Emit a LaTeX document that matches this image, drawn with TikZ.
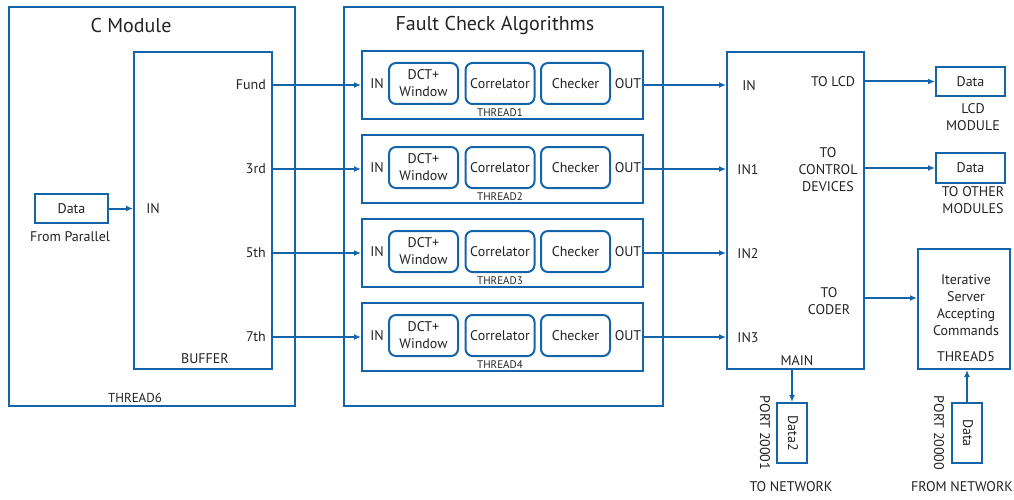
\documentclass[tikz,border=0pt]{standalone}
\usepackage{fontspec}
\setmainfont{PT Sans}
\usetikzlibrary{arrows.meta}
\definecolor{myblue}{RGB}{20,100,170}
\definecolor{txt}{RGB}{35,35,35}
\tikzset{
  box/.style={draw=myblue, line width=2pt, inner sep=0pt},
  rbox/.style={draw=myblue, line width=2pt, inner sep=0pt, rounded corners=7pt, minimum width=69pt, minimum height=41pt, align=center, font=\fontsize{14}{17}\selectfont, text=txt},
  lbl/.style={inner sep=0pt, font=\fontsize{14}{17}\selectfont, text=txt, align=center},
  small/.style={inner sep=0pt, font=\fontsize{11}{12}\selectfont, text=txt},
  big/.style={inner sep=0pt, font=\fontsize{20}{22}\selectfont, text=txt},
  conn/.style={draw=myblue, line width=2pt},
  arr/.style={conn, -{Latex[length=7pt,width=6pt]}},
}
\begin{document}
\begin{tikzpicture}[x=1pt,y=-1pt]
\useasboundingbox (0,0) rectangle (1014,500);
% C module
\node[box, minimum width=286pt, minimum height=399pt] (cmod) at (152,206.5) {};
\node[big] (cmodt) at (131,26) {C Module};
\node[box, minimum width=138pt, minimum height=317pt] (buf) at (203,210.5) {};
\node[lbl] (buft) at (205,359) {BUFFER};
\node[lbl] (bufin) at (153,209) {IN};
\node[small, font=\fontsize{13}{13}\selectfont] (th6) at (135,398) {THREAD6};
\node[box, minimum width=73pt, minimum height=29pt, lbl] (pdata) at (71.5,208.5) {Data};
\node[lbl] (pfrom) at (70,237) {From Parallel};
\draw[arr] (pdata.east) -- (buf.west |- pdata.east);
% Fault check
\node[box, minimum width=319pt, minimum height=399pt] (fc) at (503.5,206.5) {};
\node[big] (fct) at (495,26) {Fault Check Algorithms};
% Main
\node[box, minimum width=137pt, minimum height=317pt] (main) at (795.5,210.5) {};
\node[lbl] (maint) at (797,361) {MAIN};
\foreach \i/\y/\lab/\inl/\ix in {1/85/Fund/IN/749, 2/169/3rd/IN1/748, 3/253/5th/IN2/748, 4/337/7th/IN3/748}{
  \node[box, minimum width=281pt, minimum height=68pt] (th\i) at (502.5,\y) {};
  \node[lbl] (thin\i) at (377,\y-1) {IN};
  \node[lbl] (thout\i) at (628,\y-1) {OUT};
  \node[rbox] (dct\i) at (423.5,\y-1.5) {DCT+\\Window};
  \node[rbox] (cor\i) at (500,\y-1.5) {Correlator};
  \node[rbox] (chk\i) at (575.5,\y-1.5) {Checker};
  \node[small] (thl\i) at (500,\y+28) {THREAD\i};
  \node[lbl, anchor=east] (bl\i) at (266,\y) {\lab};
  \node[lbl] (mi\i) at (\ix,\y+1) {\inl};
  \draw[arr] (buf.east |- th\i.west) -- (th\i.west);
  \draw[arr] (th\i.east) -- (main.west |- th\i.east);
}
% main outputs
\node[lbl] (tolcd) at (833,82) {TO LCD};
\node[lbl] (toctl) at (828,170) {TO\\CONTROL\\DEVICES};
\node[lbl] (tocod) at (829,301) {TO\\CODER};
\node[box, lbl, minimum width=69pt, minimum height=29pt] (dlcd) at (970.5,81.5) {Data};
\node[lbl] (lcdm) at (973,117) {LCD\\MODULE};
\node[box, lbl, minimum width=69pt, minimum height=30pt] (doth) at (970.5,168) {Data};
\node[lbl] (othm) at (973,200) {TO OTHER\\MODULES};
\draw[arr] (main.east |- dlcd.west) -- (dlcd.west);
\draw[arr] (main.east |- doth.west) -- (doth.west);
\node[box, minimum width=92pt, minimum height=120pt] (srv) at (964,309) {};
\node[lbl] (srvt) at (966,305) {Iterative\\Server\\Accepting\\Commands};
\node[lbl] (th5) at (966,357) {THREAD5};
\coordinate (cod) at (864,298);
\draw[arr] (cod) -- (srv.west |- cod);
% network
\node[box, minimum width=30pt, minimum height=60pt] (d2) at (792,433) {};
\node[lbl, rotate=-90] (d2t) at (793,433) {Data2};
\node[lbl, rotate=-90] (p1) at (765,433) {PORT 20001};
\node[lbl] (tonet) at (791,487) {TO NETWORK};
\draw[arr] (main.south -| d2.north) -- (d2.north);
\node[box, minimum width=30pt, minimum height=60pt] (d3) at (967,433) {};
\node[lbl, rotate=-90] (d3t) at (968,433) {Data};
\node[lbl, rotate=-90] (p0) at (939,433) {PORT 20000};
\node[lbl] (fromnet) at (962,487) {FROM NETWORK};
\draw[arr] (d3.north) -- (srv.south -| d3.north);
\end{tikzpicture}
\end{document}
